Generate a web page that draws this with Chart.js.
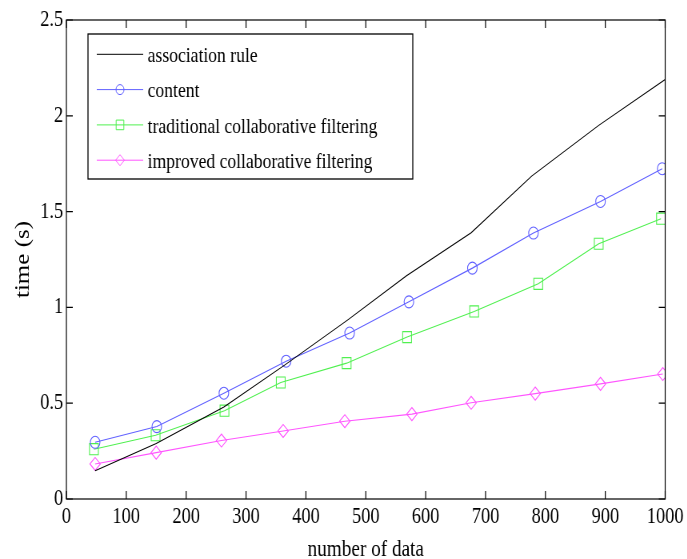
<!DOCTYPE html>
<html>
<head>
<meta charset="utf-8">
<script src="https://cdn.jsdelivr.net/npm/chart.js@4/dist/chart.umd.min.js"></script>
<style>
  html, body { margin: 0; padding: 0; background: #fff; overflow: hidden; }
  /* the source figure is squeezed horizontally, so draw wider and scale down */
  #wrap { width: 859px; height: 559px; transform: scaleX(0.8); transform-origin: 0 0; }
</style>
</head>
<body>
<div id="wrap"><canvas id="chart"></canvas></div>
<script>
// values
let labels = ['association rule', 'content', 'traditional collaborative filtering', 'improved collaborative filtering']

let xAssoc = [48, 150, 263, 365, 470, 568, 676, 777, 889, 1000]
let assocRule = [0.148, 0.29, 0.48, 0.70, 0.935, 1.165, 1.39, 1.685, 1.95, 2.19]

let xContent = [48, 151, 263, 367, 473, 572, 678, 780, 892, 995]
let content = [0.296, 0.378, 0.552, 0.719, 0.866, 1.029, 1.205, 1.388, 1.553, 1.724]

let xTraditional = [46, 149, 264, 358, 468, 569, 681, 788, 889, 993]
let traditional = [0.26, 0.333, 0.461, 0.608, 0.709, 0.845, 0.979, 1.123, 1.332, 1.463]

let xImproved = [48, 150, 259, 362, 465, 577, 676, 783, 892, 996]
let improved = [0.183, 0.242, 0.305, 0.355, 0.406, 0.443, 0.502, 0.55, 0.601, 0.652]

let xTicks = [0, 100, 200, 300, 400, 500, 600, 700, 800, 900, 1000]
let yTicks = [0, 0.5, 1, 1.5, 2, 2.5]

const FONT = "'Liberation Serif', 'Times New Roman', serif"

function pts(xs, ys) {
    return xs.map((x, i) => ({ x: x, y: ys[i] }))
}

// MATLAB style box with inward ticks on all four sides
let boxTicks = {
    id: 'boxTicks',
    afterDatasetsDraw(chart) {
        let ctx = chart.ctx
        let a = chart.chartArea
        let xs = chart.scales.x, ys = chart.scales.y
        let len = 8
        ctx.save()
        ctx.strokeStyle = '#000'
        ctx.lineWidth = 1.2
        ctx.beginPath()
        xTicks.forEach(v => {
            let px = xs.getPixelForValue(v)
            ctx.moveTo(px, a.bottom); ctx.lineTo(px, a.bottom - len)
            ctx.moveTo(px, a.top); ctx.lineTo(px, a.top + len)
        })
        yTicks.forEach(v => {
            let py = ys.getPixelForValue(v)
            ctx.moveTo(a.left, py); ctx.lineTo(a.left + len, py)
            ctx.moveTo(a.right, py); ctx.lineTo(a.right - len, py)
        })
        ctx.stroke()
        ctx.strokeRect(a.left, a.top, a.right - a.left, a.bottom - a.top)
        ctx.restore()
    }
}

// legend box drawn inside the axes, top left
let boxLegend = {
    id: 'boxLegend',
    afterDraw(chart) {
        let ctx = chart.ctx
        let x0 = 110, y0 = 34, x1 = 516, y1 = 179
        ctx.save()
        ctx.fillStyle = '#fff'
        ctx.fillRect(x0, y0, x1 - x0, y1 - y0)
        ctx.strokeStyle = '#000'
        ctx.lineWidth = 1.3
        ctx.strokeRect(x0, y0, x1 - x0, y1 - y0)
        chart.data.datasets.forEach((ds, i) => {
            let y = 54.3 + i * 35.3
            ctx.strokeStyle = ds.borderColor
            ctx.lineWidth = 1
            ctx.beginPath()
            ctx.moveTo(121, y); ctx.lineTo(179, y)
            ctx.stroke()
            if (ds.pointRadius > 0) {
                ctx.fillStyle = 'rgba(0,0,0,0)'
                Chart.helpers.drawPoint(ctx, {
                    pointStyle: ds.pointStyle,
                    radius: ds.pointRadius - 1,
                    rotation: 0,
                    borderWidth: 1
                }, 150, y)
            }
            ctx.fillStyle = '#000'
            ctx.font = '22px ' + FONT
            ctx.textBaseline = 'middle'
            ctx.textAlign = 'left'
            ctx.fillText(ds.label, 184.6, y + 2)
        })
        ctx.restore()
    }
}

let ctx = document.getElementById('chart').getContext('2d')

let chart = new Chart(ctx, {
    type: 'line',
    data: {
        datasets: [
            {
                label: labels[0],
                data: pts(xAssoc, assocRule),
                borderColor: '#000000',
                borderWidth: 1.1,
                pointRadius: 0,
                pointStyle: false
            },
            {
                label: labels[1],
                data: pts(xContent, content),
                borderColor: '#6060ff',
                borderWidth: 1.1,
                pointStyle: 'circle',
                pointRadius: 6,
                pointBorderWidth: 1.1,
                pointBackgroundColor: 'rgba(0,0,0,0)'
            },
            {
                label: labels[2],
                data: pts(xTraditional, traditional),
                borderColor: '#50f050',
                borderWidth: 1.1,
                pointStyle: 'rect',
                pointRadius: 7.8,
                pointBorderWidth: 1.1,
                pointBackgroundColor: 'rgba(0,0,0,0)'
            },
            {
                label: labels[3],
                data: pts(xImproved, improved),
                borderColor: '#ff55ff',
                borderWidth: 1.1,
                pointStyle: 'rectRot',
                pointRadius: 6.5,
                pointBorderWidth: 1.1,
                pointBackgroundColor: 'rgba(0,0,0,0)'
            }
        ]
    },
    options: {
        responsive: true,
        maintainAspectRatio: false,
        animation: false,
        events: [],
        layout: { padding: { top: 20, right: 25, left: 0, bottom: 0 } },
        plugins: {
            legend: { display: false },
            tooltip: { enabled: false }
        },
        scales: {
            x: {
                type: 'linear',
                min: 0,
                max: 1000,
                afterFit(scale) { scale.height = 60 },
                afterBuildTicks(scale) { scale.ticks = xTicks.map(v => ({ value: v })) },
                grid: { display: false, drawTicks: false },
                border: { display: false },
                ticks: {
                    color: '#000',
                    padding: 4.5,
                    maxRotation: 0,
                    font: { family: FONT, size: 23 },
                    callback: v => String(v)
                },
                title: {
                    display: true,
                    text: 'number of data',
                    color: '#000',
                    font: { family: FONT, size: 24, lineHeight: 0.8 },
                    padding: { top: 0, bottom: 0 }
                }
            },
            y: {
                min: 0,
                max: 2.5,
                afterFit(scale) { scale.width = 83 },
                afterBuildTicks(scale) { scale.ticks = yTicks.map(v => ({ value: v })) },
                grid: { display: false, drawTicks: false },
                border: { display: false },
                ticks: {
                    color: '#000',
                    padding: 4,
                    font: { family: FONT, size: 23 },
                    callback: v => String(v)
                },
                title: {
                    display: true,
                    text: 'time (s)',
                    color: '#000',
                    font: { family: FONT, size: 25 },
                    padding: { top: 14, bottom: 0 }
                }
            }
        }
    },
    plugins: [boxTicks, boxLegend]
})
</script>
</body>
</html>
